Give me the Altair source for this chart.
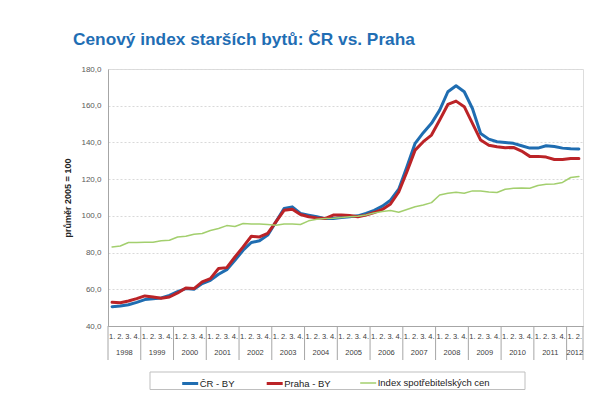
import altair as alt
import pandas as pd

# ---------------- data ----------------
series_names = ["ČR - BY", "Praha - BY", "Index spotřebitelských cen"]
series_colors = ["#1F6DB1", "#BB2327", "#A3CF6E"]
series_widths = [3, 3, 1.5]

years = ["1998", "1999", "2000", "2001", "2002", "2003", "2004", "2005",
         "2006", "2007", "2008", "2009", "2010", "2011", "2012"]
quarter_labels = ["1.", "2.", "3.", "4."]

cr = [50.5, 50.9, 51.6, 52.9, 54.4, 54.9, 55.3, 56.7,
      58.7, 60.4, 60.0, 63.1, 64.9, 68.2, 70.7, 75.8,
      81.3, 85.5, 86.4, 89.5, 96.7, 104.0, 104.9, 101.3,
      100.4, 99.5, 98.5, 98.5, 99.1, 99.5, 100.0, 101.3,
      103.0, 105.3, 108.5, 114.5, 126.7, 139.5, 145.3, 150.4,
      157.6, 167.6, 170.9, 167.6, 158.5, 144.9, 141.8, 140.4,
      140.0, 139.5, 138.2, 136.9, 136.9, 138.2, 137.8, 136.9,
      136.5, 136.4]

praha = [52.9, 52.7, 53.6, 54.9, 56.4, 55.8, 55.1, 55.8,
         58.0, 60.7, 60.4, 64.0, 65.8, 71.3, 71.8, 77.6,
         83.1, 88.9, 88.5, 90.4, 96.7, 103.0, 103.6, 100.7,
         99.5, 98.9, 98.5, 100.4, 100.4, 100.2, 99.5, 100.4,
         101.8, 103.5, 106.5, 113.0, 124.0, 135.8, 140.4, 144.0,
         152.2, 160.7, 162.5, 159.5, 150.4, 141.3, 138.5, 137.6,
         137.1, 137.3, 135.3, 132.4, 132.4, 132.0, 130.7, 130.7,
         131.3, 131.3]

cpi = [83.1, 83.6, 85.5, 85.5, 85.6, 85.6, 86.4, 86.7,
       88.5, 88.9, 90.0, 90.4, 92.0, 93.1, 94.7, 94.2,
       95.8, 95.5, 95.5, 95.3, 94.9, 95.5, 95.5, 95.3,
       97.3, 98.2, 98.5, 98.7, 99.1, 99.5, 99.8, 100.5,
       101.6, 102.4, 102.9, 102.0, 103.5, 105.0, 105.9, 107.2,
       111.4, 112.3, 112.8, 112.3, 113.6, 113.6, 113.0, 112.7,
       114.5, 115.0, 115.2, 115.0, 116.5, 117.2, 117.4, 118.2,
       120.9, 121.5]

n = len(cr)
rows = []
for name, vals in zip(series_names, [cr, praha, cpi]):
    for i, v in enumerate(vals):
        rows.append({"idx": i, "series": name, "value": v})
df = pd.DataFrame(rows)

quarter_df = pd.DataFrame({"idx": list(range(n)),
                           "q": [quarter_labels[i % 4] for i in range(n)]})
year_df = pd.DataFrame({
    "year": years,
    "center": [(4 * k - 0.5 + min(4 * k + 3.5, n - 0.5)) / 2 for k in range(len(years))],
})
sep_df = pd.DataFrame({"b": [4 * k - 0.5 for k in range(len(years))] + [n - 0.5]})

W, H = 475, 257
FONT = "Liberation Sans"

x_scale = alt.Scale(domain=[-0.5, n - 0.5], nice=False, zero=False)
y_scale = alt.Scale(domain=[40, 180], nice=False, zero=False)

legend_cfg = dict(
    orient="none", legendX=72.7, legendY=305, direction="horizontal", columns=3,
    gridAlign="none",
    symbolType="stroke", symbolSize=256, labelFont=FONT, labelFontSize=9.5,
    labelColor="#222222", columnPadding=25.5, labelOffset=0, padding=0, title=None,
)

lines = alt.Chart(df).mark_line(strokeJoin="round", strokeCap="round").encode(
    x=alt.X("idx:Q", scale=x_scale, title=None,
            axis=alt.Axis(labels=False, ticks=False, grid=False,
                          domainColor="#a6a6a6", domainWidth=1)),
    y=alt.Y("value:Q", scale=y_scale, title="průměr 2005 = 100",
            axis=alt.Axis(values=[40, 60, 80, 100, 120, 140, 160, 180],
                          labelExpr="replace(format(datum.value, '.1f'), '.', ',')",
                          labelFont=FONT, labelFontSize=8, labelColor="#595959",
                          labelPadding=7, ticks=False, grid=True,
                          gridColor="#d9d9d9", gridDash=[2, 2], gridWidth=1,
                          domainColor="#a6a6a6",
                          titleFont=FONT, titleFontSize=9, titleFontWeight="bold",
                          titleColor="#222222", titleX=-41, titleY=H / 2,
                          titleAngle=270, titleAlign="center", titleBaseline="middle")),
    color=alt.Color("series:N", scale=alt.Scale(domain=series_names, range=series_colors),
                    legend=alt.Legend(**legend_cfg)),
    strokeWidth=alt.StrokeWidth("series:N",
                                scale=alt.Scale(type="ordinal", domain=series_names,
                                                range=series_widths),
                                legend=alt.Legend(**legend_cfg)),
)

seps = alt.Chart(sep_df).mark_rule(color="#a6a6a6", strokeWidth=1).encode(
    x=alt.X("b:Q", scale=x_scale),
    y=alt.value(H), y2=alt.value(H + 34),
)

quarter_text = alt.Chart(quarter_df).mark_text(
    font=FONT, fontSize=7.5, color="#404040", baseline="middle", align="center"
).encode(
    x=alt.X("idx:Q", scale=x_scale),
    y=alt.value(H + 11),
    text="q:N",
)

year_text = alt.Chart(year_df).mark_text(
    font=FONT, fontSize=7.5, color="#404040", baseline="middle", align="center"
).encode(
    x=alt.X("center:Q", scale=x_scale),
    y=alt.value(H + 27),
    text="year:N",
)

legend_box = alt.Chart(pd.DataFrame({"k": [0]})).mark_rect(
    fill="transparent", stroke="#bfbfbf", strokeWidth=1
).encode(
    x=alt.value(42), x2=alt.value(417), y=alt.value(303), y2=alt.value(320.5),
)

chart = alt.layer(legend_box, seps, quarter_text, year_text, lines).properties(
    width=W, height=H,
    title=alt.TitleParams(
        text="Cenový index starších bytů: ČR vs. Praha",
        anchor="start", frame="group", dx=-35, offset=17,
        font=FONT, fontSize=17.3, fontWeight="bold", color="#1F6EB4",
    ),
    autosize=alt.AutoSizeParams(type="none"),
    padding={"left": 100, "top": 61, "right": 19, "bottom": 64},
).configure_view(
    stroke="#d4d4d4", strokeWidth=1.5
).configure(background="white")

chart.save("out.html", embed_options={"renderer": "svg", "actions": False})
